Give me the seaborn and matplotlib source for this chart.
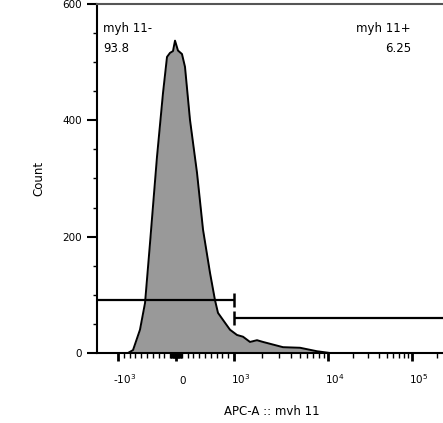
import numpy as np
import matplotlib
matplotlib.use("Agg")
import matplotlib.pyplot as plt
import matplotlib.transforms as mtransforms
import seaborn as sns

# histogram outline (APC value, count)
apc_values = [-828, -741, -621, -534, -448, -328, -224, -155, -103, -52, -17,
              34, 103, 155, 241, 362, 466, 586, 672, 724, 845, 931, 1076, 1247,
              1480, 1757, 2036, 3320, 5040, 7640, 10560]
counts = [0, 5, 40, 86, 189, 337, 447, 509, 516, 519, 537,
          520, 514, 492, 401, 310, 212, 138, 91, 69, 52, 40, 31, 28,
          19, 22, 19, 10, 9, 3, 0]

gate_split = 1000
gate_neg_y = 91
gate_pos_y = 61
gate_labels = ["myh 11-", "myh 11+"]
gate_pcts = ["93.8", "6.25"]

x_major = [-1e3, 0, 1e3, 1e4, 1e5]
x_major_labels = ["-10$^3$", "0", "10$^3$", "10$^4$", "10$^5$"]
y_major = [0, 200, 400, 600]

# FlowJo-like biex display: linear within +-1000, log decades outside
U_ANCH = np.array([-2, -1, 0, 1, 2, 3, 4], dtype=float)
P_ANCH = np.array([24, 118, 176, 234, 328, 412, 496], dtype=float)


def to_u(x):
    x = np.asarray(x, dtype=float)
    ax_ = np.maximum(np.abs(x), 1e-9)
    return np.where(ax_ <= 1000, x / 1000, np.sign(x) * (1 + np.log10(ax_ / 1000)))


def from_u(u):
    u = np.asarray(u, dtype=float)
    return np.where(np.abs(u) <= 1, u * 1000, np.sign(u) * 1000 * 10 ** (np.abs(u) - 1))


def fwd(x):
    return np.interp(to_u(x), U_ANCH, P_ANCH)


def inv(p):
    return from_u(np.interp(np.asarray(p, dtype=float), P_ANCH, U_ANCH))


sns.set_style("ticks")
plt.rcParams["font.family"] = ["DejaVu Sans"]
plt.rcParams["text.color"] = "black"
plt.rcParams["axes.labelcolor"] = "black"
plt.rcParams["xtick.color"] = "black"
plt.rcParams["ytick.color"] = "black"

fig = plt.figure(figsize=(4.43, 4.23), dpi=100)
W, H = 443, 423
ax = fig.add_axes([97 / W, 70 / H, 350 / W, 349 / H])
ax.set_xscale("function", functions=(fwd, inv))

ax.fill_between(apc_values, counts, color="#999999", lw=0, zorder=2)
sns.lineplot(x=apc_values, y=counts, ax=ax, color="black", lw=1.4, sort=False, zorder=3)

xmin, xmax = float(inv(97)), float(inv(447))
ax.set_xlim(xmin, xmax)
ax.set_ylim(0, 600)

# gates
ax.hlines(gate_neg_y, xmin, gate_split, color="black", lw=1.6, zorder=4, clip_on=False)
ax.hlines(gate_pos_y, gate_split, xmax, color="black", lw=1.6, zorder=4)
ax.plot([gate_split], [gate_neg_y], marker="|", ms=10, mew=1.8, color="black", zorder=4)
ax.plot([gate_split], [gate_pos_y], marker="|", ms=10, mew=1.8, color="black", zorder=4)

# ticks
minor = ([k * 100 for k in range(-9, 10) if k != 0]
         + [k * 10 for k in range(-9, 10) if k != 0]
         + [k * 1000 for k in range(2, 10)]
         + [k * 10000 for k in range(2, 10)] + [2e5])
ax.set_xticks(x_major)
ax.set_xticklabels(x_major_labels)
ax.set_xticks(minor, minor=True)
ax.set_yticks(y_major)
ax.set_yticks(np.arange(0, 601, 50), minor=True)
ax.tick_params(axis="x", which="major", length=6, width=2, labelsize=7.5, pad=16)
ax.tick_params(axis="x", which="minor", length=3.5, width=1)
ax.tick_params(axis="y", which="major", length=7, width=1.5, labelsize=7.5, pad=4)
ax.tick_params(axis="y", which="minor", length=3, width=1)
shift = mtransforms.ScaledTranslation(7 / 100, 0, fig.dpi_scale_trans)
for lbl in ax.get_xticklabels():
    lbl.set_verticalalignment("baseline")
    lbl.set_transform(lbl.get_transform() + shift)

for side in ["left", "bottom"]:
    ax.spines[side].set_color("black")
    ax.spines[side].set_linewidth(1.5)
ax.spines["top"].set_color("#555555")
ax.spines["top"].set_linewidth(1.5)
ax.spines["right"].set_visible(False)

ax.set_xlabel("APC-A :: mvh 11", fontsize=8.5, labelpad=14)
ax.set_ylabel("Count", fontsize=8.5, labelpad=12)

# gate annotations (figure pixel positions)
fig.text(103 / W, 1 - 32 / H, gate_labels[0], fontsize=8.5, va="baseline", ha="left")
fig.text(103 / W, 1 - 52 / H, gate_pcts[0], fontsize=8.5, va="baseline", ha="left")
fig.text(411 / W, 1 - 32 / H, gate_labels[1], fontsize=8.5, va="baseline", ha="right")
fig.text(411 / W, 1 - 52 / H, gate_pcts[1], fontsize=8.5, va="baseline", ha="right")

fig.savefig("out.png", dpi=100)
